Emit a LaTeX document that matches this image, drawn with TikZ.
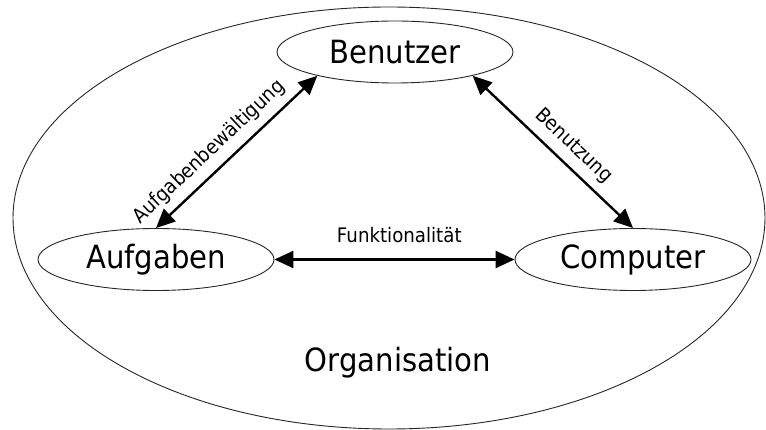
\documentclass[tikz,border=0pt]{standalone}
\usepackage{fontspec}
\setmainfont{DejaVu Sans}
\newfontfamily\diafont{DejaVu Sans}[FakeStretch=0.91]
\usetikzlibrary{shapes.geometric,arrows.meta}
\begin{document}
\begin{tikzpicture}[x=1pt,y=-1pt,
  outline/.style={draw=black!85, line width=0.9pt},
  bigtext/.style={font=\diafont\fontsize{32}{36}\selectfont},
  actor/.style={outline, ellipse, minimum width=236pt, minimum height=62pt,
    inner sep=0pt, bigtext},
  relation/.style={line width=2.4pt,
    {Triangle[length=19pt,width=17pt]}-{Triangle[length=19pt,width=17pt]}},
  rellabel/.style={inner sep=0pt, font=\diafont\fontsize{20}{24}\selectfont}]
\useasboundingbox (0,0) rectangle (766,430);

% the organisation surrounding everything
\draw[outline] (389,218) ellipse [x radius=376, y radius=211];
\node[bigtext, anchor=base, inner sep=0pt] (org) at (398,371.5) {Organisation};

% the three actors
\node[actor] (ben)  at (395,52)    {Benutzer};
\node[actor] (aufg) at (156,259.5) {Aufgaben};
\node[actor] (comp) at (633,259.5) {Computer};

% relations between them
\draw[relation] (aufg.north) --
  node[rellabel, sloped, above=8pt, pos=0.41] {Aufgabenbewältigung} (ben.197);
\draw[relation] (ben.343) --
  node[rellabel, sloped, above=8pt, pos=0.55] {Benutzung} (comp.north);
\draw[relation] (aufg.east) --
  node[rellabel, above=16pt, pos=0.52] {Funktionalität} (comp.west);
\end{tikzpicture}
\end{document}
